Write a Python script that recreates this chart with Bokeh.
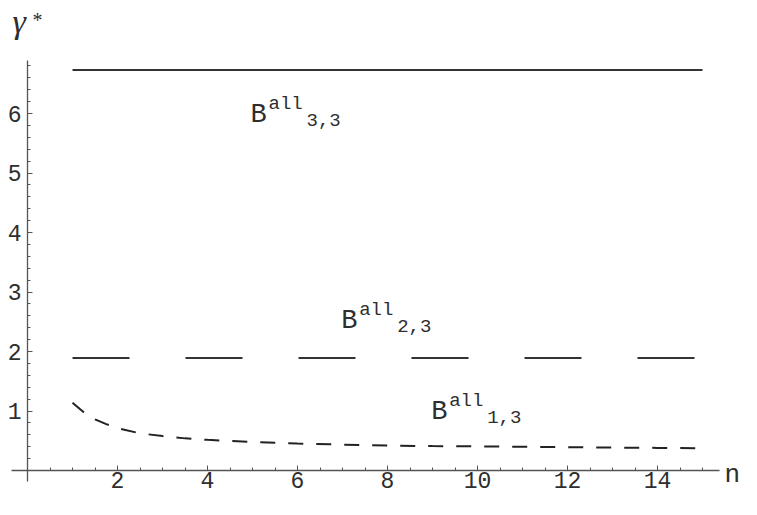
from bokeh.plotting import figure
from bokeh.models import LinearAxis, FixedTicker, Range1d, Label
from bokeh.embed import file_html
from bokeh.resources import INLINE

# ---- data ----
n_const = [1, 15]
b33 = [6.73, 6.73]
b23 = [1.89, 1.89]
n_curve = [1, 1.25, 1.5, 1.75, 2, 2.5, 3, 3.5, 4, 5, 6, 7, 8, 9, 10, 11, 12, 13, 14, 15]
b13 = [1.14, 0.98, 0.86, 0.78, 0.71, 0.625, 0.578, 0.54, 0.515, 0.478, 0.452,
       0.435, 0.42, 0.41, 0.405, 0.398, 0.392, 0.386, 0.38, 0.375]

x_ticks = [2, 4, 6, 8, 10, 12, 14]
x_minor = [i * 0.5 for i in range(1, 31)]
y_ticks = [1, 2, 3, 4, 5, 6]
y_minor = [round(i * 0.2, 2) for i in range(1, 35)]

series_labels = [("3,3", 4.956, 5.97), ("2,3", 6.97, 2.52), ("1,3", 8.97, 0.99)]

FONT = "Liberation Mono"
INK = "#2e2e2e"

W, H = 741, 499
PX_X, PX_Y = 45.0, 59.5
X0_PX, Y0_PX = 27.0, 470.0

p = figure(width=W, height=H,
           x_range=Range1d(-X0_PX / PX_X, (W - X0_PX) / PX_X),
           y_range=Range1d(-(H - Y0_PX) / PX_Y, Y0_PX / PX_Y),
           output_backend="svg", toolbar_location=None,
           x_axis_location=None, y_axis_location=None, min_border=0)
p.outline_line_color = None
p.background_fill_color = "white"
p.border_fill_color = "white"
p.grid.visible = False

xaxis = LinearAxis(fixed_location=0,
                   ticker=FixedTicker(ticks=x_ticks, minor_ticks=x_minor),
                   bounds=(-0.36, 15.38))
yaxis = LinearAxis(fixed_location=0,
                   ticker=FixedTicker(ticks=y_ticks, minor_ticks=y_minor),
                   bounds=(-0.18, 6.89))
for ax in (xaxis, yaxis):
    ax.axis_line_color = "#555555"
    ax.axis_line_width = 1.3
    ax.major_tick_line_color = "#555555"
    ax.minor_tick_line_color = "#555555"
    ax.major_tick_in = 5
    ax.major_tick_out = 0
    ax.minor_tick_in = 3
    ax.minor_tick_out = 0
    ax.major_label_text_font = FONT
    ax.major_label_text_font_size = "23px"
    ax.major_label_text_color = INK
xaxis.major_label_standoff = 1
yaxis.major_label_standoff = 6
p.add_layout(xaxis, "below")
p.add_layout(yaxis, "left")

p.line(n_const, b33, line_color="#333333", line_width=2)
p.line(n_const, b23, line_color="#333333", line_width=2, line_dash="57 56")
p.line(n_curve, b13, line_color="#222222", line_width=2, line_dash="15 13")

for sub, x, y in series_labels:
    p.add_layout(Label(x=x, y=y, text="B", text_font=FONT, text_font_size="27px",
                       text_color=INK, text_baseline="alphabetic"))
    p.add_layout(Label(x=x, y=y, x_offset=18, y_offset=11, text="all", text_font=FONT,
                       text_font_size="19px", text_color=INK, text_baseline="alphabetic"))
    p.add_layout(Label(x=x, y=y, x_offset=56, y_offset=-5, text=sub, text_font=FONT,
                       text_font_size="19px", text_color=INK, text_baseline="alphabetic"))

p.add_layout(Label(x=-0.333, y=7.55, text="γ", text_font="Liberation Serif",
                   text_font_style="italic", text_font_size="34px", text_color=INK,
                   text_baseline="alphabetic"))
p.add_layout(Label(x=-0.333, y=7.55, x_offset=20, y_offset=1, text="*",
                   text_font="Liberation Serif", text_font_size="20px", text_color=INK,
                   text_baseline="alphabetic"))
p.add_layout(Label(x=15.49, y=-0.08, text="n", text_font=FONT, text_font_size="26px",
                   text_color=INK, text_baseline="alphabetic"))

open("out.html", "w").write(file_html(p, INLINE))
